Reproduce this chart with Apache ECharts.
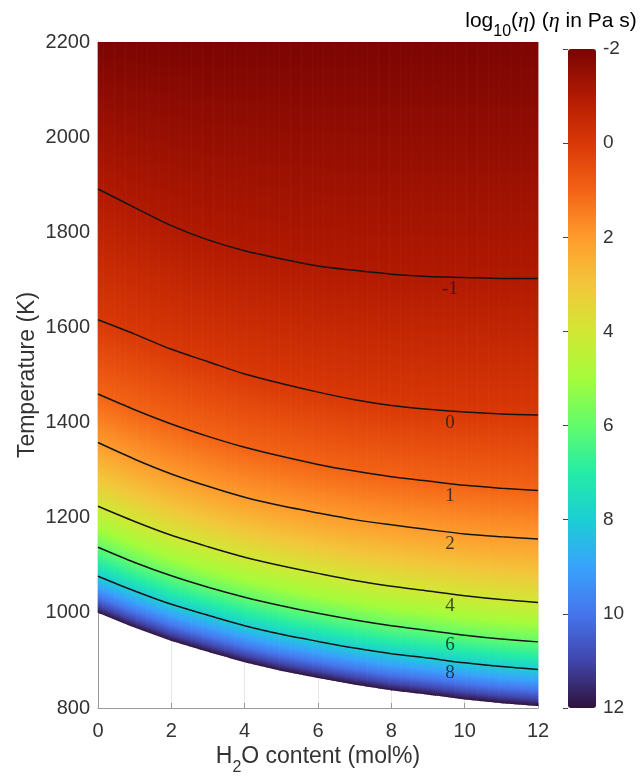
<!DOCTYPE html>
<html><head><meta charset="utf-8">
<script src="https://cdn.jsdelivr.net/npm/echarts@6/dist/echarts.min.js"></script>
<style>html,body{margin:0;padding:0;background:#fff}#c{width:640px;height:778px}</style>
</head><body><div id="c"></div>
<script>
// H2O content nodes (mol%)
const xNodes = [0,1,2,3,4,5,6,7,8,9,10,11,12];
// Temperature (K) at which log10(eta) equals the given level, at each xNode
const T_m2 = [2212,2211,2210,2211,2213,2215,2216,2217,2218,2219,2219,2220,2220];
const T_m1 = [1891,1852,1814,1784,1761,1744,1729,1720,1712,1707,1705,1703,1703];
const T_0  = [1616,1586,1554,1528,1502,1482,1464,1448,1436,1428,1422,1418,1416];
const T_1  = [1460,1427,1397,1371,1348,1329,1312,1298,1286,1277,1268,1262,1257];
const T_2  = [1358,1323,1292,1266,1243,1225,1210,1196,1185,1175,1166,1160,1155];
const T_3  = [1284,1251,1221,1196,1174,1156,1140,1126,1114,1104,1095,1087,1082];
const T_4  = [1224,1192,1163,1139,1117,1099,1083,1068,1056,1046,1036,1028,1022];
const T_5  = [1176,1144,1115,1091,1070,1052,1036,1022,1010,1000,990,982,976];
const T_6  = [1138,1106,1078,1054,1033,1015,999,985,973,963,953,945,939];
const T_7  = [1104,1072,1044,1021,999,981,966,952,940,931,921,913,907];
const T_8  = [1077,1046,1018,995,973,955,940,926,914,905,895,887,881];
const T_9  = [1053,1022,994,971,949,931,916,902,890,881,871,863,857];
const T_10 = [1033,1002,974,951,929,911,896,882,870,861,851,843,837];
const T_11 = [1015,984,956,933,911,893,878,864,852,843,833,825,819];
const T_12 = [1000,969,941,918,896,878,863,849,837,828,818,810,804];
const levelValues = [-2,-1,0,1,2,3,4,5,6,7,8,9,10,11,12];
const levelT = [T_m2,T_m1,T_0,T_1,T_2,T_3,T_4,T_5,T_6,T_7,T_8,T_9,T_10,T_11,T_12];
// drawn contour lines and their labels
const contourLevels = [-1,0,1,2,4,6,8];
const contourT = [T_m1,T_0,T_1,T_2,T_4,T_6,T_8];
const contourLabelX = 9.6;
// colour scale: colours at log10(eta) = -2, -1, ..., 12
const cbarColors = ['#7a0403','#b11901','#d93806','#f36315','#fe9b2d','#f3c63a','#d1e834','#a4fc3b','#61fc6c','#24eca6','#1bcfd4','#39a2fc','#4675ed','#4145ab','#30123b'];

const SANS = "'Liberation Sans', Arial, Helvetica, sans-serif";
const SERIF = "'Liberation Serif', 'Times New Roman', serif";
const TXT = '#333333';
const AX = '#9a9a9a';

function atX(arr, x) {
  let k = Math.max(0, Math.min(Math.floor(x), xNodes.length - 2));
  const f = (x - xNodes[k]) / (xNodes[k + 1] - xNodes[k]);
  return arr[k] * (1 - f) + arr[k + 1] * f;
}

// field drawn as thin columns, each shaded through the level curves
const NCOL = 240;
const colData = [];
for (let i = 0; i < NCOL; i++) colData.push([(i + 0.5) * 12 / NCOL, 1500]);

const series = [{
  type: 'custom', xAxisIndex: 0, yAxisIndex: 0, silent: true, z: 2,
  data: colData,
  renderItem: function (params, api) {
    const i = params.dataIndex;
    const x0 = i * 12 / NCOL, x1 = (i + 1) * 12 / NCOL, xc = (x0 + x1) / 2;
    const bl = api.coord([x0, atX(T_12, x0)]);
    const br = api.coord([x1, atX(T_12, x1)]);
    const tr = api.coord([x1, 2200]);
    const tl = api.coord([x0, 2200]);
    const e = 0.35;
    const pts = [[tl[0] - e, tl[1]], [tr[0] + e, tr[1]], [br[0] + e, br[1]], [bl[0] - e, bl[1]]];
    const ys = levelT.map(a => api.coord([xc, atX(a, xc)])[1]);
    const y0 = ys[0], y1 = ys[ys.length - 1];
    const stops = ys.map((y, k) => ({offset: Math.max(0, Math.min(1, (y - y0) / (y1 - y0))), color: cbarColors[k]}));
    return {
      type: 'polygon', silent: true,
      shape: {points: pts},
      style: {fill: new echarts.graphic.LinearGradient(0, y0, 0, y1, stops, true), stroke: null}
    };
  }
}];
contourLevels.forEach((lv, k) => {
  series.push({
    type: 'line', xAxisIndex: 0, yAxisIndex: 0, silent: true, z: 3,
    data: xNodes.map((x, i) => [x, contourT[k][i]]),
    smooth: 0.3, showSymbol: false, symbol: 'none',
    lineStyle: {color: '#151515', width: 1.5}
  });
});
series.push({
  type: 'scatter', xAxisIndex: 0, yAxisIndex: 0, silent: true, z: 4,
  symbolSize: 0,
  data: contourLevels.map((lv, k) => ({value: [contourLabelX, atX(contourT[k], contourLabelX)], name: String(lv)})),
  label: {show: true, position: 'inside', offset: [0, 12], formatter: p => p.name,
    fontFamily: SERIF, fontSize: 19, color: '#1b1b1b'}
});

const rN = (fs, pad) => ({fontSize: fs, fontFamily: SANS, color: TXT, verticalAlign: 'bottom', padding: [0, 0, pad, 0]});
const rS = (fs) => ({fontSize: fs, fontFamily: SANS, color: TXT, verticalAlign: 'bottom'});

const chart = echarts.init(document.getElementById('c'), null, {renderer: 'canvas'});
chart.setOption({
  animation: false,
  backgroundColor: '#ffffff',
  grid: [
    {left: 98, top: 42, width: 440, height: 666, outerBoundsMode: 'none', containLabel: false},
    {left: 568, top: 49, width: 28, height: 659, outerBoundsMode: 'none', containLabel: false}
  ],
  xAxis: [
    {gridIndex: 0, type: 'value', min: 0, max: 12, interval: 2,
      axisLine: {show: true, onZero: false, lineStyle: {color: AX, width: 1}},
      axisTick: {show: true, inside: true, length: 5, lineStyle: {color: AX}},
      axisLabel: {fontSize: 20, fontFamily: SANS, color: TXT, margin: 13},
      splitLine: {show: true, lineStyle: {color: '#e8e8e8', width: 1}},
      name: '{n|H}{s|2}{n|O content (mol%)}', nameLocation: 'middle', nameGap: 37, nameMoveOverlap: false,
      nameTextStyle: {rich: {n: rN(23, 8), s: rS(16)}}
    },
    {gridIndex: 1, type: 'value', min: 0, max: 1, show: false}
  ],
  yAxis: [
    {gridIndex: 0, type: 'value', min: 800, max: 2200, interval: 200,
      axisLine: {show: true, onZero: false, lineStyle: {color: AX, width: 1}},
      axisTick: {show: true, inside: true, length: 5, lineStyle: {color: AX}},
      axisLabel: {fontSize: 20, fontFamily: SANS, color: TXT, margin: 8, formatter: v => String(v)},
      splitLine: {show: true, lineStyle: {color: '#e8e8e8', width: 1}},
      name: 'Temperature (K)', nameLocation: 'middle', nameGap: 59, nameMoveOverlap: false,
      nameTextStyle: {fontSize: 23, fontFamily: SANS, color: TXT}
    },
    {gridIndex: 1, type: 'value', min: -2, max: 12, interval: 2, inverse: true, position: 'right', z: 10,
      axisLine: {show: false},
      axisTick: {show: true, inside: true, length: 5, lineStyle: {color: '#444'}},
      axisLabel: {fontSize: 19, fontFamily: SANS, color: TXT, margin: 7, formatter: v => String(v)},
      splitLine: {show: false}
    }
  ],
  visualMap: {
    type: 'continuous', min: -2, max: 12, seriesIndex: [],
    inRange: {color: cbarColors},
    orient: 'vertical', inverse: true, calculable: false, hoverLink: false,
    left: 568, top: 49, itemWidth: 28, itemHeight: 659, padding: 0,
    text: null, textGap: 0
  },
  graphic: [{
    type: 'text', x: 551, y: 25, silent: true,
    style: {
      text: '{n|log}{s|10}{n|(}{i|η}{n|) (}{i|η}{n| in Pa s)}',
      align: 'center', verticalAlign: 'middle',
      rich: {n: rN(21, 8), s: rS(16), i: {fontSize: 22, fontFamily: SERIF, fontStyle: 'italic', color: TXT, verticalAlign: 'bottom', padding: [0, 0, 8, 0]}}
    }
  }],
  series: series
});
</script>
</body></html>
